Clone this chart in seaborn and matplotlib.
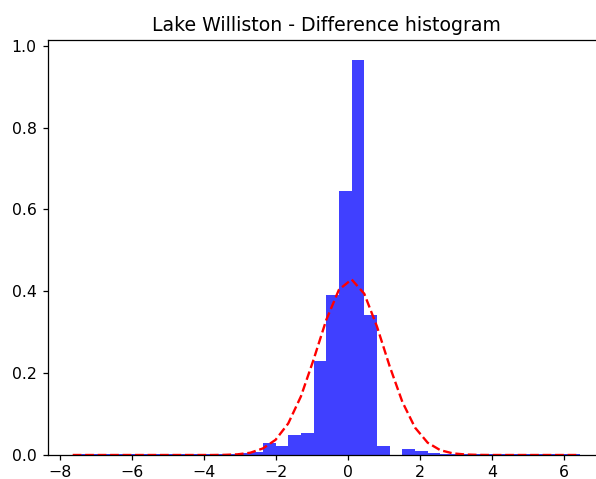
import numpy as np
import pandas as pd
import matplotlib
matplotlib.use('Agg')
import matplotlib.pyplot as plt
import seaborn as sns

# histogram of differences (density), 40 equal bins
bin_lo, bin_hi, n_bins = -7.65, 6.44, 40
density = [0.002, 0.002, 0.002, 0.002, 0.002, 0.002, 0.002, 0.002, 0.002, 0.002,
           0.002, 0.002, 0.002, 0.006, 0.007, 0.029, 0.023, 0.048, 0.053, 0.230,
           0.392, 0.645, 0.966, 0.341, 0.023, 0.0, 0.015, 0.009, 0.004, 0.002,
           0.002, 0.002, 0.002, 0.002, 0.002, 0.002, 0.002, 0.002, 0.002, 0.002]

# fitted normal curve, read at the bin edges
normal_fit = [0.0, 0.0, 0.0, 0.0, 0.0, 0.0, 0.0, 0.0, 0.0, 0.0,
              0.0, 0.0, 0.0004, 0.0016, 0.0055, 0.016, 0.037, 0.077, 0.143, 0.233,
              0.330, 0.404, 0.429, 0.394, 0.314, 0.217, 0.130, 0.067, 0.030, 0.0117,
              0.0039, 0.0012, 0.0003, 0.0, 0.0, 0.0, 0.0, 0.0, 0.0, 0.0, 0.0]

edges = np.linspace(bin_lo, bin_hi, n_bins + 1)
hist_df = pd.DataFrame({'diff': (edges[:-1] + edges[1:]) / 2, 'dens': density})
fit_df = pd.DataFrame({'x': edges, 'pdf': normal_fit})

# reference looks like a slightly enlarged, right-cropped figure
dpi = 113
fig = plt.figure(figsize=(596 / dpi, 479 / dpi), dpi=dpi)
ax = fig.add_axes([47.5 / 596, 24 / 479, 557.5 / 596, 415 / 479])

sns.histplot(data=hist_df, x='diff', weights='dens', bins=list(edges), color='blue',
             alpha=0.75, linewidth=0, ax=ax)
sns.lineplot(data=fit_df, x='x', y='pdf', color='red', linestyle='--', linewidth=1.5, ax=ax)

ax.set_xlim(-8.35, 7.14)
ax.set_ylim(0, 1.014)
ax.set_xticks([-8, -6, -4, -2, 0, 2, 4, 6])
ax.set_yticks([0.0, 0.2, 0.4, 0.6, 0.8, 1.0])
ax.tick_params(axis='x', pad=2.6)
ax.set_ylabel('')
ax.set_xlabel('')
ax.set_title('Lake Williston - Difference histogram', fontsize=12)

fig.savefig('out.png', dpi=dpi)
